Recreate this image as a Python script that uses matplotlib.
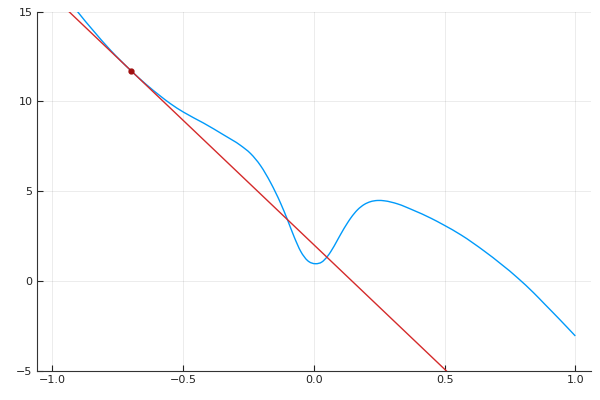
import matplotlib
matplotlib.use("Agg")
import matplotlib.pyplot as plt
from matplotlib.path import Path
from matplotlib.patches import PathPatch
import numpy as np

# Curve
curve_x = [-1.0, -0.904, -0.843, -0.779, -0.70, -0.64, -0.587, -0.549, -0.498, -0.421,
           -0.344, -0.280, -0.242, -0.204, -0.165, -0.127, -0.101, -0.075, -0.05,
           -0.0245, 0.007, 0.03, 0.052, 0.065, 0.09, 0.103, 0.129, 0.1415, 0.167,
           0.193, 0.216, 0.244, 0.27, 0.32, 0.38, 0.448, 0.495, 0.563, 0.653,
           0.781, 0.84, 0.883, 0.94, 1.0]
curve_y = [16.9, 15.0, 13.93, 12.87, 11.72, 10.93, 10.30, 9.88, 9.40, 8.79,
           8.13, 7.55, 7.10, 6.43, 5.47, 4.33, 3.42, 2.45, 1.65,
           1.15, 0.97, 1.06, 1.38, 1.65, 2.28, 2.62, 3.25, 3.52, 3.97,
           4.27, 4.42, 4.49, 4.47, 4.30, 3.95, 3.50, 3.14, 2.57, 1.66,
           0.16, -0.64, -1.28, -2.13, -3.05]

# Tangent point and slope
tan_x0 = -0.70
tan_y0 = 11.72
tan_slope = -13.85

xticks = [-1.0, -0.5, 0.0, 0.5, 1.0]
yticks = [-5, 0, 5, 10, 15]


def smooth_path(xs, ys):
    """Smooth cubic Hermite path through the given points (drawn as Bezier curves)."""
    x = np.asarray(xs, float)
    y = np.asarray(ys, float)
    d = np.diff(y) / np.diff(x)
    m = np.empty_like(y)
    m[0], m[-1] = d[0], d[-1]
    h = np.diff(x)
    m[1:-1] = (d[:-1] * h[1:] + d[1:] * h[:-1]) / (h[:-1] + h[1:])
    verts = [(x[0], y[0])]
    codes = [Path.MOVETO]
    for i in range(len(x) - 1):
        hi = h[i] / 3.0
        verts += [(x[i] + hi, y[i] + m[i] * hi),
                  (x[i + 1] - hi, y[i + 1] - m[i + 1] * hi),
                  (x[i + 1], y[i + 1])]
        codes += [Path.CURVE4] * 3
    return Path(verts, codes)


fig = plt.figure(figsize=(6, 4), dpi=100)
ax = fig.add_axes([0.0612, 0.0725, 0.9238, 0.8985])

ax.add_patch(PathPatch(smooth_path(curve_x, curve_y), facecolor="none",
                       edgecolor="#009AFA", lw=1.0, zorder=3))
lx = np.array([-1.0, 1.0])
ax.plot(lx, tan_y0 + tan_slope * (lx - tan_x0), color="#d42a2a", lw=1.0, zorder=4)
ax.plot([tan_x0], [tan_y0], "o", color="#a01010", ms=3.5, zorder=5)

ax.set_xlim(-1.06, 1.06)
ax.set_ylim(-5, 15)
ax.set_xticks(xticks)
ax.set_yticks(yticks)
ax.set_xticklabels(["−1.0", "−0.5", "0.0", "0.5", "1.0"])
ax.set_yticklabels(["−5", "0", "5", "10", "15"])
ax.grid(True, color="black", alpha=0.08, lw=0.7)
ax.spines["top"].set_visible(False)
ax.spines["right"].set_visible(False)
ax.spines["left"].set_color("#333333")
ax.spines["bottom"].set_color("#333333")
ax.tick_params(direction="in", length=4, width=0.8, labelsize=8, colors="#222222", pad=3)
ax.set_axisbelow(True)

fig.savefig("out.png", dpi=100)
